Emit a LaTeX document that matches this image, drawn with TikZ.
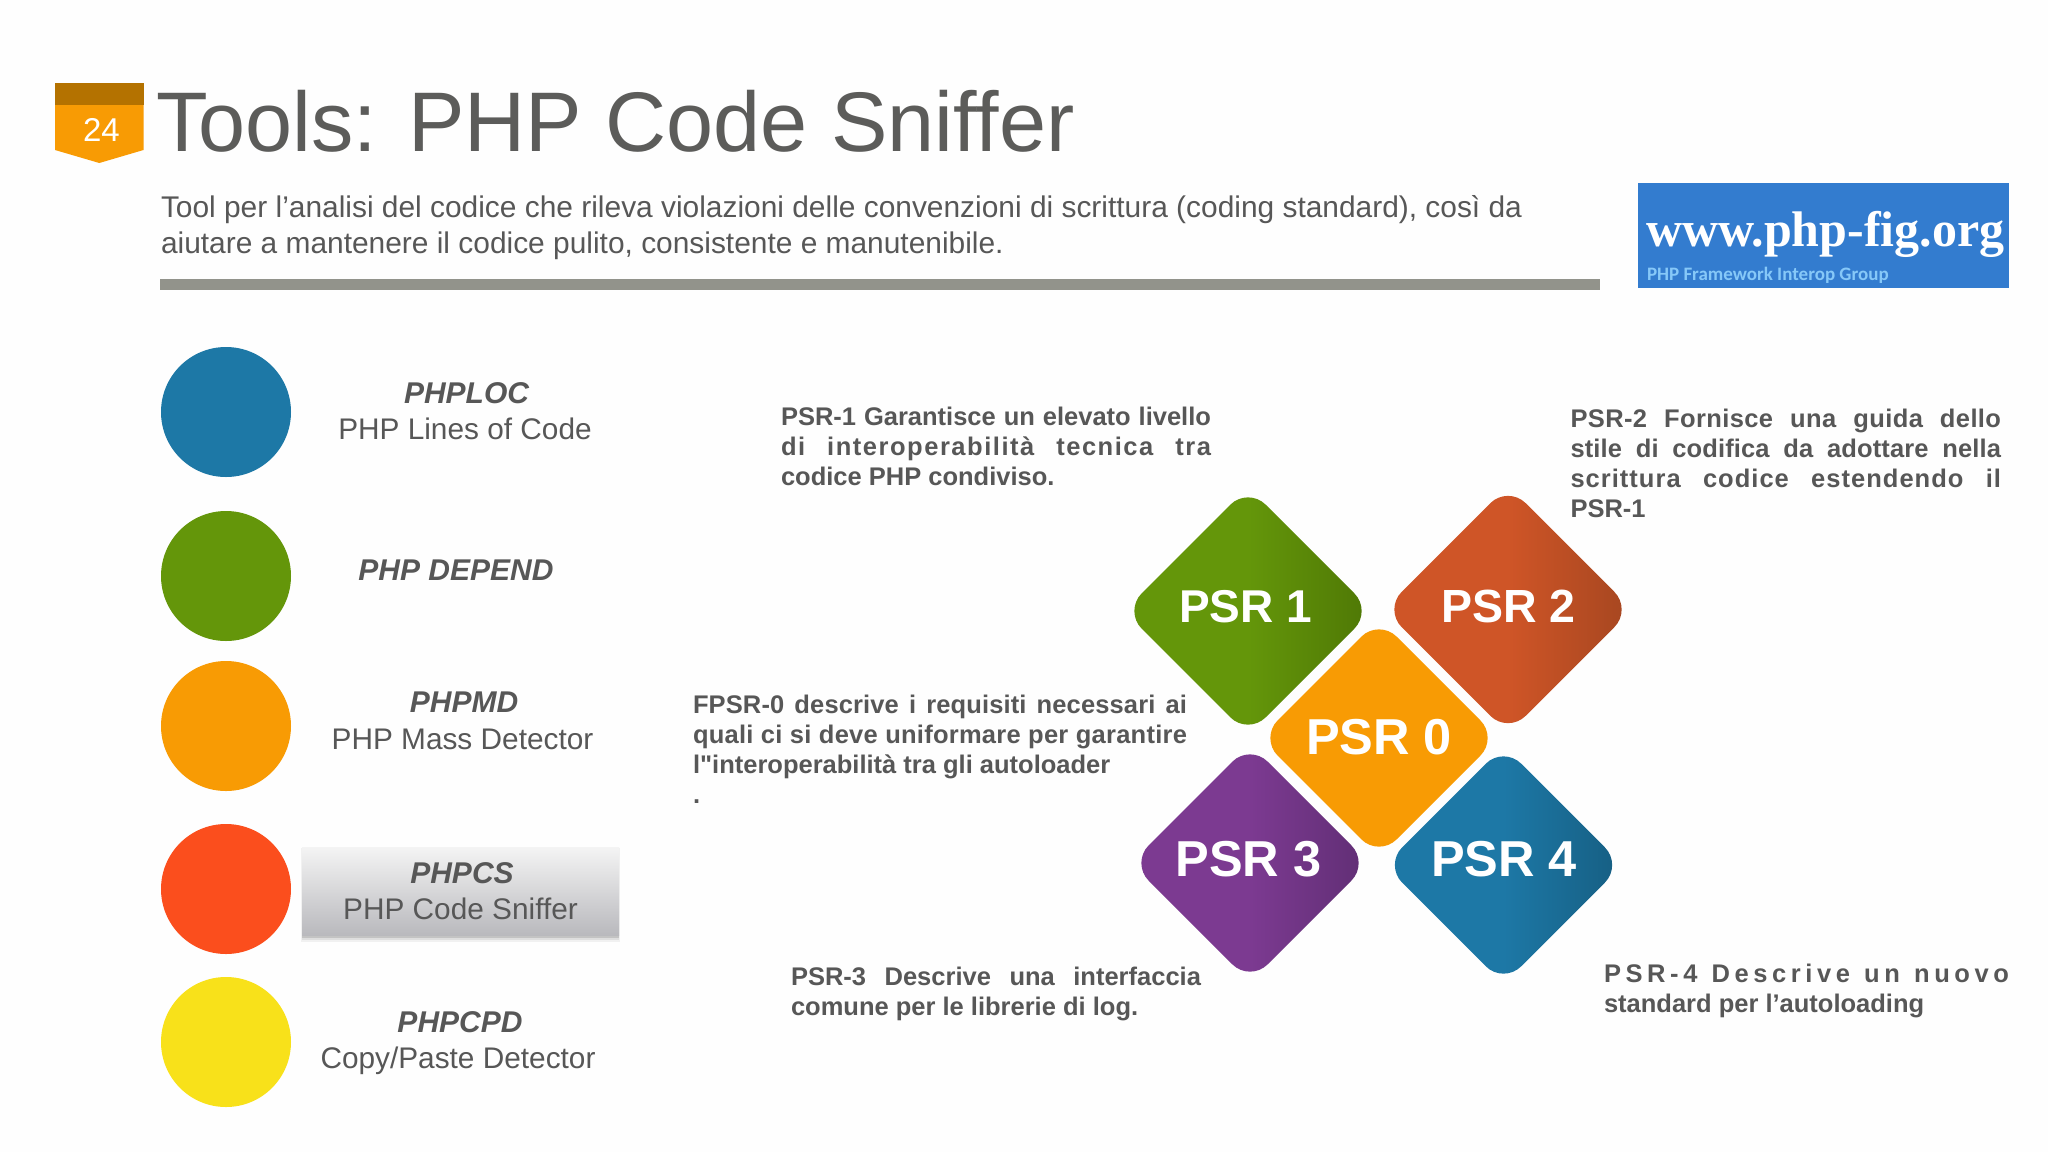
\documentclass[tikz,border=0pt]{standalone}
\usepackage{graphicx}
\usepackage{fontspec}
\setmainfont{Liberation Sans}[Ligatures=TeXOff]
\newfontfamily\logoserif{Liberation Serif}
\newfontfamily\logosans{Carlito}
\usetikzlibrary{shapes.geometric}
\definecolor{bgc}{HTML}{FEFEFE}
\definecolor{txt}{HTML}{575757}
\definecolor{ttl}{HTML}{5C5C5A}
\definecolor{bandc}{HTML}{B47200}
\definecolor{orangec}{HTML}{F89B04}
\definecolor{rulec}{HTML}{92938B}
\definecolor{logoblue}{HTML}{337CCF}
\definecolor{logolite}{HTML}{86C8F8}
\definecolor{bluec}{HTML}{1D78A6}
\definecolor{blued}{HTML}{165E82}
\definecolor{greenc}{HTML}{64960A}
\definecolor{greend}{HTML}{4E7705}
\definecolor{rustc}{HTML}{CF5527}
\definecolor{rustd}{HTML}{A54620}
\definecolor{purpc}{HTML}{7C3A91}
\definecolor{purpd}{HTML}{602E74}
\definecolor{redc}{HTML}{FB4E1D}
\definecolor{yellowc}{HTML}{F8E11A}
\definecolor{boxtop}{HTML}{F4F4F4}
\definecolor{boxbot}{HTML}{B9B9BD}
\newcommand{\jl}[3]{\makebox[#1pt][s]{\addfontfeature{LetterSpace=#2}#3}}
\tikzset{
  base/.style={inner sep=0pt,outer sep=0pt},
  dot/.style={base,circle,minimum size=130pt},
  psr/.style={base,diamond,aspect=1,rounded corners=25pt,minimum width=#1pt,minimum height=#1pt},
  grad/.style 2 args={left color=#1,right color=#2,middle color=#1},
  psrtxt/.style={base,anchor=base,text=white,font=\fontsize{#1}{#1}\selectfont\bfseries},
  toolname/.style={base,anchor=base,text=txt,font=\fontsize{30}{30}\selectfont\bfseries\itshape},
  tooldesc/.style={base,anchor=base,text=txt,font=\fontsize{29.8}{30}\selectfont},
  para/.style={base,anchor=base west,text=txt,align=left,font=\fontsize{25.5}{30}\selectfont\bfseries},
}
\begin{document}
\begin{tikzpicture}[x=1pt,y=-1pt]
\useasboundingbox (0,0) rectangle (2048,1152);
\fill[bgc] (0,0) rectangle (2048,1152);
% badge
\fill[orangec] (55,83) -- (143.5,83) -- (143.5,150) -- (99.3,163) -- (55,150) -- cycle;
\fill[bandc] (55,83) rectangle (143.5,105);
\node[base,anchor=base,text=white,font=\fontsize{33}{33}\selectfont] (num) at (101.5,141) {24};
% title
\node[base,anchor=base west,text=ttl,font=\fontsize{84.6}{84.6}\selectfont] (title) at (156,151) {Tools: PHP Code Sniffer};
\node[base,anchor=base west,text=txt,align=left,font=\fontsize{29.9}{36}\selectfont] (sub) at (161,253)
 {Tool per l’analisi del codice che rileva violazioni delle convenzioni di scrittura (coding standard), così da\\aiutare a mantenere il codice pulito, consistente e manutenibile.};
\fill[rulec] (160,279) rectangle (1600,290);
% logo
\node[base,fill=logoblue,minimum width=371pt,minimum height=105pt] (logo) at (1823.5,235.5) {};
\node[base,anchor=base west,text=white,font=\logoserif\fontsize{50}{50}\selectfont\bfseries] (logourl) at (1646,246) {www.php-fig.org};
\node[base,anchor=base west,text=logolite,font=\logosans\fontsize{19}{19}\selectfont\bfseries] (logosub) at (1647,280) {PHP Framework Interop Group};
% circles
\node[dot,fill=bluec] (c1) at (226,412) {};
\node[dot,fill=greenc] (c2) at (226,576) {};
\node[dot,fill=orangec] (c3) at (226,726) {};
\node[dot,fill=redc] (c4) at (226,889) {};
\node[dot,fill=yellowc] (c5) at (226,1042) {};
% highlight box with soft shadow
\foreach \d/\o in {7/.05,5/.08,3/.12,1/.2}{
  \fill[black,opacity=\o] (303-\d/4,848) rectangle (618+\d/4,935+\d);
}
\node[base,minimum width=317pt,minimum height=88pt,top color=boxtop,bottom color=boxbot] (hbox) at (460.5,891) {};
% tool labels
\node[toolname] (t1) at (466.5,403) {PHPLOC};
\node[tooldesc] (d1) at (465,439) {PHP Lines of Code};
\node[toolname] (t2) at (456,580) {PHP DEPEND};
\node[toolname] (t3) at (464,712) {PHPMD};
\node[tooldesc] (d3) at (462.5,749) {PHP Mass Detector};
\node[toolname] (t4) at (462,883) {PHPCS};
\node[tooldesc] (d4) at (460.5,919) {PHP Code Sniffer};
\node[toolname] (t5) at (460,1032) {PHPCPD};
\node[tooldesc] (d5) at (458,1068) {Copy/Paste Detector};
% diamonds
\node[psr=248,grad={greenc}{greend}] (p1) at (1248,611) {};
\node[psr=248,grad={rustc}{rustd}] (p2) at (1508,609.5) {};
\node[psr=238,fill=orangec] (p0) at (1379,738) {};
\node[psr=238,grad={purpc}{purpd}] (p3) at (1250,863) {};
\node[psr=238,grad={bluec}{blued}] (p4) at (1503.5,865) {};
\node[psrtxt=46] at (1245.5,622) (l1) {PSR 1};
\node[psrtxt=46.5] at (1508.5,622) (l2) {PSR 2};
\node[psrtxt=50.5] at (1379,754.5) (l0) {PSR 0};
\node[psrtxt=50.5] at (1248.5,876) (l3) {PSR 3};
\node[psrtxt=50.5] at (1504,876.5) (l4) {PSR 4};
% paragraphs
\node[para] (a1) at (781,485) {\jl{430}{0}{PSR-1 Garantisce un elevato livello}\\\jl{430}{6}{di interoperabilità tecnica tra}\\codice PHP condiviso.};
\node[para] (a0) at (693,803) {\jl{494}{0.5}{FPSR-0 descrive i requisiti necessari ai}\\\jl{494}{1}{quali ci si deve uniformare per garantire}\\l"interoperabilità tra gli autoloader\\.};
\node[para] (a2) at (1570.5,517) {\jl{430.5}{1.5}{PSR-2 Fornisce una guida dello}\\\jl{430.5}{0.5}{stile di codifica da adottare nella}\\\jl{430.5}{4}{scrittura codice estendendo il}\\PSR-1};
\node[para] (a3) at (791,1015) {\jl{410}{0}{PSR-3 Descrive una interfaccia}\\comune per le librerie di log.};
\node[para] (a4) at (1604,1012) {\jl{405}{18}{PSR-4 Descrive un nuovo}\\standard per l’autoloading};
\end{tikzpicture}
\end{document}
